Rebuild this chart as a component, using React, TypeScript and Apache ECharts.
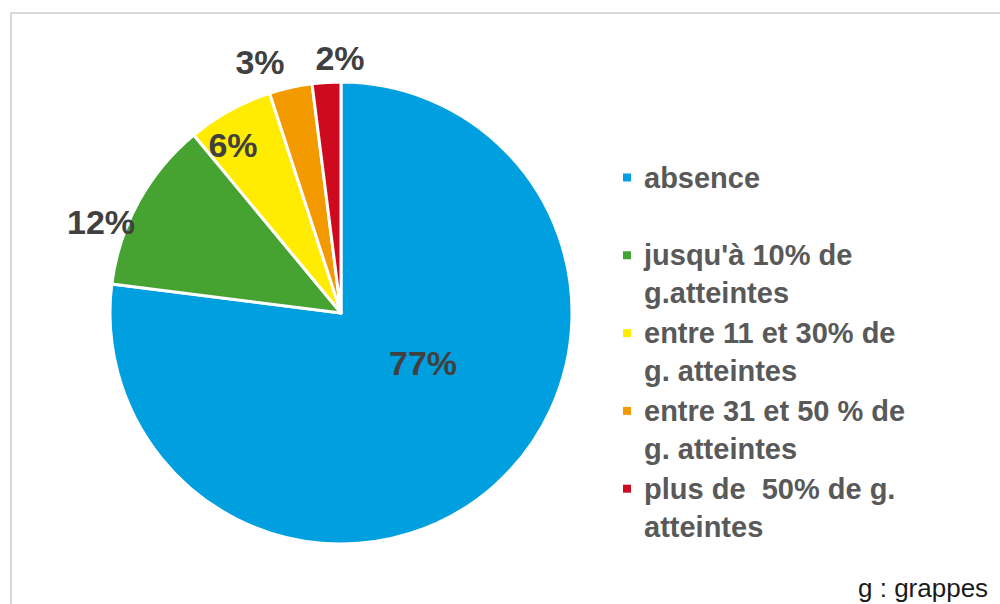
import React, { useEffect, useRef } from "react";
import * as echarts from "echarts";

const categories = [
  "absence",
  "jusqu'à 10% de\ng.atteintes",
  "entre 11 et 30% de\ng. atteintes",
  "entre 31 et 50 % de\ng. atteintes",
  "plus de  50% de g.\natteintes",
];
const values = [77, 12, 6, 3, 2];
const colors = ["#009FE0", "#46A332", "#FFEC00", "#F39A00", "#CE0A1E"];
const labelPos = [
  [423, 363],
  [101, 222],
  [233, 145],
  [260, 62],
  [340, 58],
];

export default function App() {
  const ref = useRef<HTMLDivElement>(null);
  useEffect(() => {
    const chart = echarts.init(ref.current!, null, { renderer: "svg" });
    const LH = 38;
    const rich: any = {
      t: { fontFamily: "Liberation Sans", fontWeight: "bold", fontSize: 29, color: "#595959", lineHeight: LH },
      i: { width: 21, height: 8, lineHeight: LH },
    };
    colors.forEach((c, k) => {
      rich["m" + k] = { width: 8, height: 8, backgroundColor: c, lineHeight: LH };
      rich["g" + k] = { width: 13, height: 8, lineHeight: LH };
    });
    chart.setOption({
      animation: false,
      graphic: [
        {
          type: "rect",
          shape: { x: 11, y: 13, width: 1100, height: 700 },
          style: { fill: "none", stroke: "#D9D9D9", lineWidth: 2 },
          silent: true,
        },
        {
          type: "text",
          x: 858,
          y: 588,
          style: {
            text: "g : grappes",
            font: "26px Liberation Sans",
            fill: "#1a1a1a",
            verticalAlign: "middle",
            align: "left",
          },
        },
      ],
      legend: {
        orient: "vertical",
        left: 617,
        top: 163,
        itemWidth: 0,
        itemHeight: 0,
        itemGap: 10.8,
        padding: 0,
        icon: "rect",
        data: categories,
        textStyle: { rich, padding: 0 },
        formatter: (name: string) => {
          const k = categories.indexOf(name);
          const lines = name.split("\n");
          const l2 = lines[1] || "";
          return `{m${k}|}{g${k}|}{t|${lines[0]}}\n{i|}{t|${l2 || " "}}`;
        },
      },
      series: [
        {
          type: "pie",
          center: [341, 313],
          radius: 231,
          startAngle: 90,
          clockwise: true,
          data: categories.map((c, k) => ({ name: c, value: values[k], itemStyle: { color: colors[k] } })),
          itemStyle: { borderColor: "#fff", borderWidth: 3 },
          label: {
            show: true,
            position: "inside",
            formatter: "{c}%",
            fontFamily: "Liberation Sans",
            fontWeight: "bold",
            fontSize: 34,
            color: "#404040",
          },
          labelLine: { show: false },
          labelLayout: (p: any) => ({
            x: labelPos[p.dataIndex][0],
            y: labelPos[p.dataIndex][1],
            align: "center",
            verticalAlign: "middle",
          }),
        },
      ],
    });
    return () => chart.dispose();
  }, []);
  return (
    <div
      ref={ref}
      style={{ position: "absolute", left: 0, top: 0, width: 1000, height: 604, background: "#fff" }}
    />
  );
}
